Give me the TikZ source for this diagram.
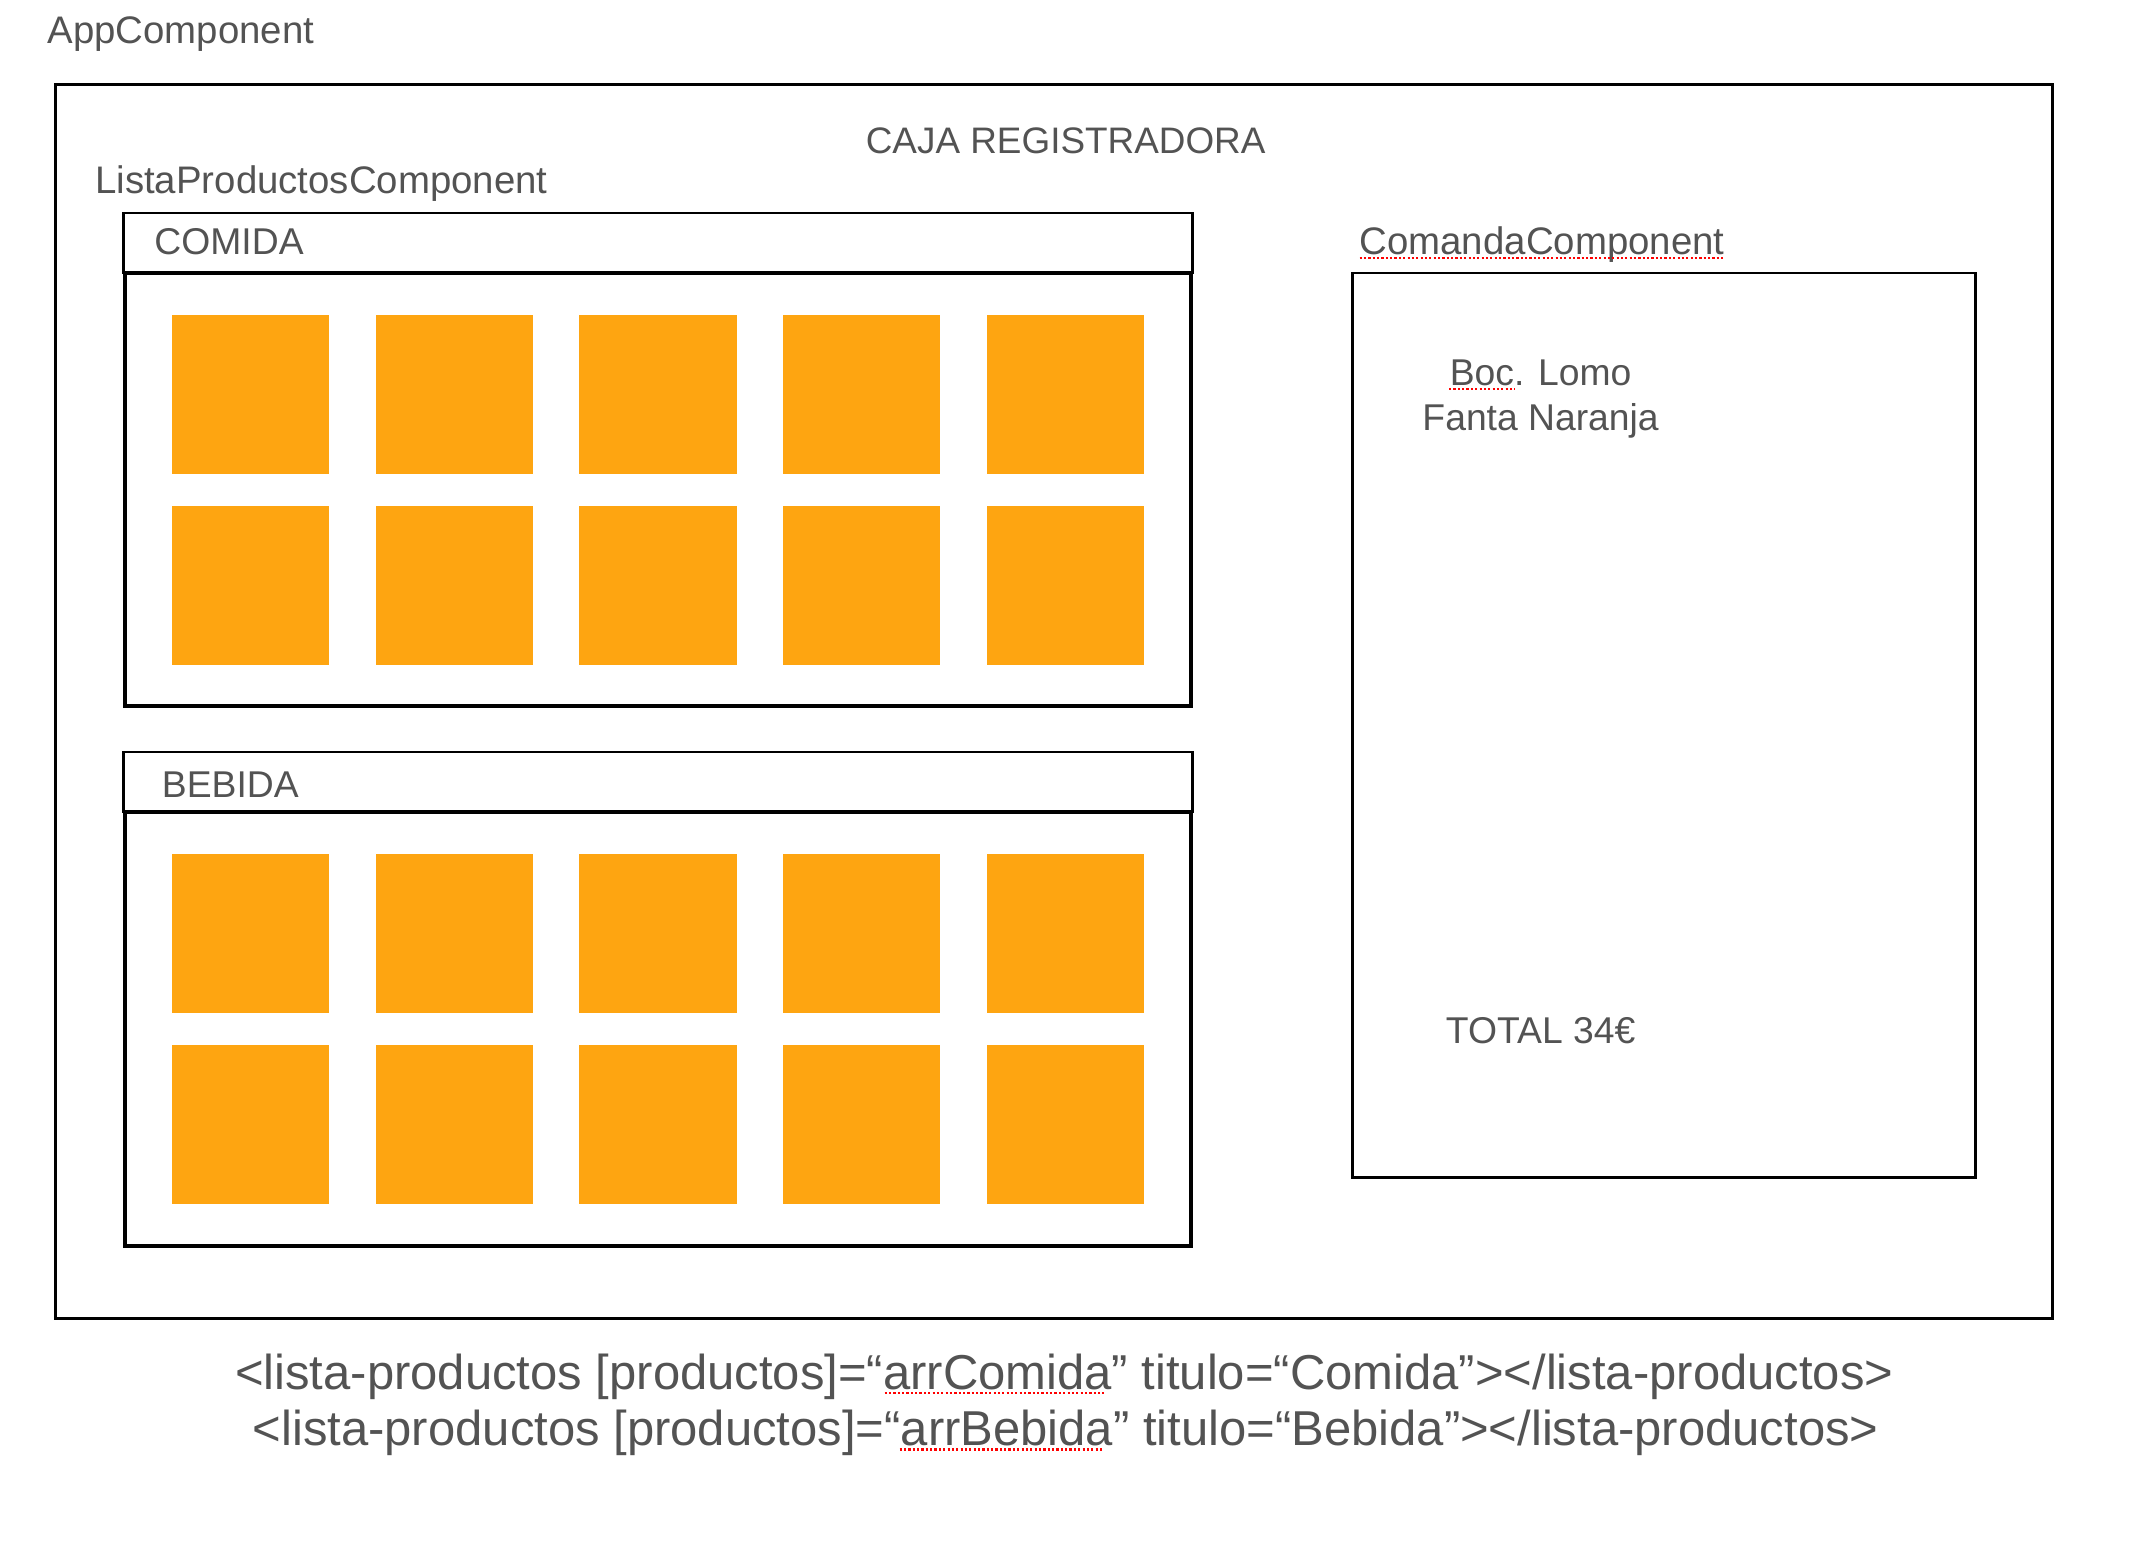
\documentclass[tikz,border=0pt]{standalone}
\usepackage{fontspec}
\setmainfont{Liberation Sans}
\definecolor{labelgray}{RGB}{83,83,83}
\definecolor{prodorange}{RGB}{254,165,17}

\begin{document}
\begin{tikzpicture}[x=0.5pt, y=-0.5pt, line join=miter, line cap=rect,
        every node/.style={text=labelgray, inner sep=0pt, outer sep=0pt, anchor=base west, font=\fontsize{13.7}{16}\selectfont},
        complabel/.style={font=\fontsize{14.1}{16}\selectfont},
        frame/.style={draw=black, line width=1pt},
        panel/.style={draw=black, line width=1.4pt},
        prod/.style={fill=prodorange, minimum width=57.8pt, minimum height=58.4pt, anchor=center},
        codeline/.style={anchor=base, font=\fontsize{18}{20}\selectfont},
        spellcheck/.style={draw=red, line width=0.8pt, dash pattern=on 0.8pt off 0.8pt, line cap=butt}]
    \useasboundingbox (0, 0) rectangle (1568, 1137.4);

    \node[complabel] (app) at (35, 32) {AppComponent};
    \draw[frame] (41, 62) rectangle (1508, 969);
    \node[anchor=base, font=\fontsize{13.55}{16}\selectfont] (caja) at (783, 113) {CAJA REGISTRADORA};

    \node[complabel] (lista) at (70, 142.5) {ListaProductosComponent};

    % comida
    \draw[frame] (91, 156.5) rectangle (876, 200.5);
    \draw[panel] (92, 200.5) rectangle (875, 518.7);
    \node (comida) at (113.5, 187) {COMIDA};
    \node[prod] (c1) at (184, 290) {};
    \node[prod] (c2) at (334, 290) {};
    \node[prod] (c3) at (483.5, 290) {};
    \node[prod] (c4) at (633, 290) {};
    \node[prod] (c5) at (783, 290) {};
    \node[prod] (c6) at (184, 430) {};
    \node[prod] (c7) at (334, 430) {};
    \node[prod] (c8) at (483.5, 430) {};
    \node[prod] (c9) at (633, 430) {};
    \node[prod] (c10) at (783, 430) {};

    % bebida
    \draw[frame] (91, 552.6) rectangle (876, 596.6);
    \draw[panel] (92, 596.6) rectangle (875, 915.5);
    \node (bebida) at (119, 586) {BEBIDA};
    \node[prod] (b1) at (184, 686) {};
    \node[prod] (b2) at (334, 686) {};
    \node[prod] (b3) at (483.5, 686) {};
    \node[prod] (b4) at (633, 686) {};
    \node[prod] (b5) at (783, 686) {};
    \node[prod] (b6) at (184, 826.5) {};
    \node[prod] (b7) at (334, 826.5) {};
    \node[prod] (b8) at (483.5, 826.5) {};
    \node[prod] (b9) at (633, 826.5) {};
    \node[prod] (b10) at (783, 826.5) {};

    % comanda
    \node[complabel] (comanda) at (999, 187) {ComandaComponent};
    \draw[spellcheck] ([yshift=-1.3pt]comanda.base west) -- ([yshift=-1.3pt]comanda.base east);
    \draw[frame] (994, 200.6) rectangle (1451.5, 865);
    \node[anchor=base] (item1) at (1132, 283.4) {Boc. Lomo};
    \node[anchor=base] (item2) at (1132, 316) {Fanta Naranja};
    \draw[spellcheck] (1064.7, 286) -- (1113, 286);
    \node[anchor=base] (total) at (1132, 767) {TOTAL 34€};

    \node[codeline] (line1) at (782, 1020.7) {<lista-productos [productos]=“arrComida” titulo=“Comida”></lista-productos>};
    \node[codeline] (line2) at (783, 1062) {<lista-productos [productos]=“arrBebida” titulo=“Bebida”></lista-productos>};
    \draw[spellcheck] (650, 1023.5) -- (811, 1023.5);
    \draw[spellcheck] (661, 1065) -- (811, 1065);
\end{tikzpicture}
\end{document}
